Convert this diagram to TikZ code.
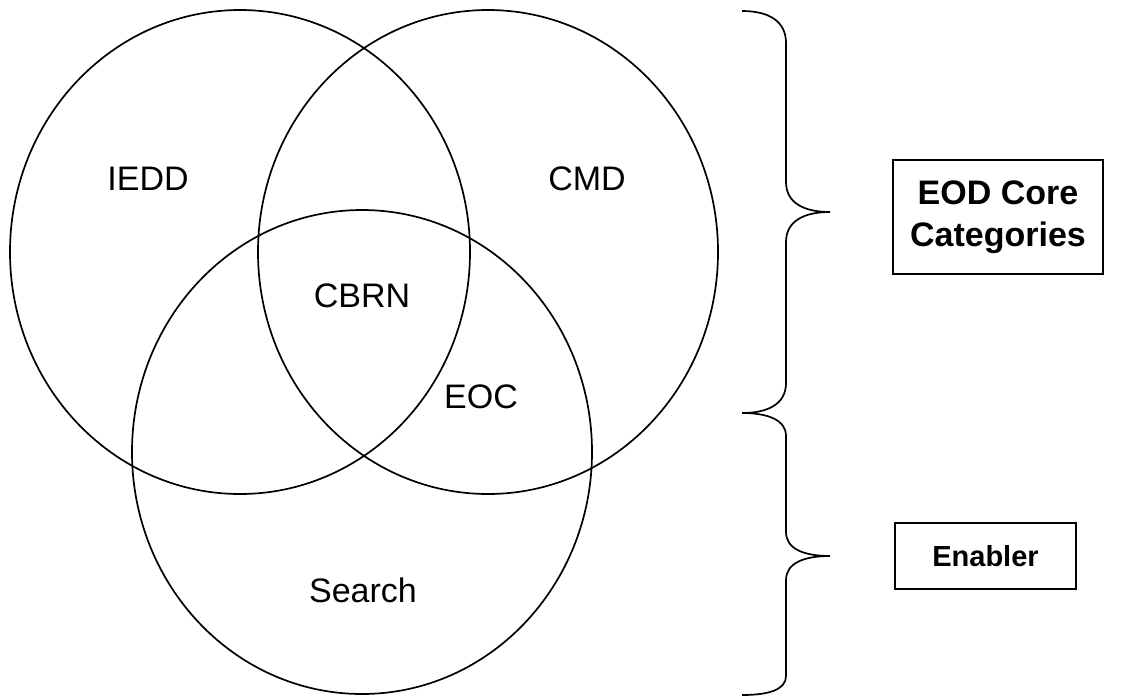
\documentclass[tikz,border=0pt]{standalone}
\usepackage{fontspec}
\setmainfont{Liberation Sans}

\begin{document}
\begin{tikzpicture}[x=0.5pt, y=-0.5pt, line width=0.85pt,
	setlabel/.style={anchor=base, font=\fontsize{17}{20}\selectfont},
	catbox/.style={draw, line width=0.8pt, align=center, inner sep=0pt}]
	% Parameters
	\def\rx{230}   % x radius of each set
	\def\ry{242}   % y radius of each set
	\def\bx{786}   % x of the brace spine
	\def\tip{830}  % x of the brace tips
	\def\bend{742} % x of the brace ends
	
	\useasboundingbox (0,0) rectangle (1122,697);
	
	% Draw the three sets
	\draw (240,252) ellipse [x radius=\rx, y radius=\ry];
	\draw (488,252) ellipse [x radius=\rx, y radius=\ry];
	\draw (362,452) ellipse [x radius=\rx, y radius=\ry];
	
	% Set labels
	\node[setlabel] (iedd) at (148,190) {IEDD};
	\node[setlabel] (cmd) at (587,190) {CMD};
	\node[setlabel] (cbrn) at (362,307) {CBRN};
	\node[setlabel] (eoc) at (481,408) {EOC};
	\node[setlabel] (search) at (363,602) {Search};
	
	% Upper brace
	\draw (\bend,11) .. controls (770,11) and (\bx,22) .. (\bx,43)
		-- (\bx,182) .. controls (\bx,203) and (804,212) .. (\tip,212)
		.. controls (804,212) and (\bx,221) .. (\bx,242)
		-- (\bx,383) .. controls (\bx,404) and (768,413) .. (\bend,413);
	% Lower brace
	\draw (\bend,413) .. controls (768,413) and (\bx,420) .. (\bx,436)
		-- (\bx,532) .. controls (\bx,549) and (804,556) .. (\tip,556)
		.. controls (804,556) and (\bx,563) .. (\bx,580)
		-- (\bx,676) .. controls (\bx,690) and (768,695) .. (\bend,695);
	
	% Category boxes
	\node[catbox, minimum width=105pt, minimum height=57pt,
		font=\bfseries\fontsize{17}{21}\selectfont] (core) at (998,217) {EOD Core\\Categories};
	\node[catbox, minimum width=90.5pt, minimum height=33pt,
		font=\bfseries\fontsize{14.5}{17}\selectfont] (enabler) at (985.5,556) {Enabler};
	
\end{tikzpicture}
\end{document}
